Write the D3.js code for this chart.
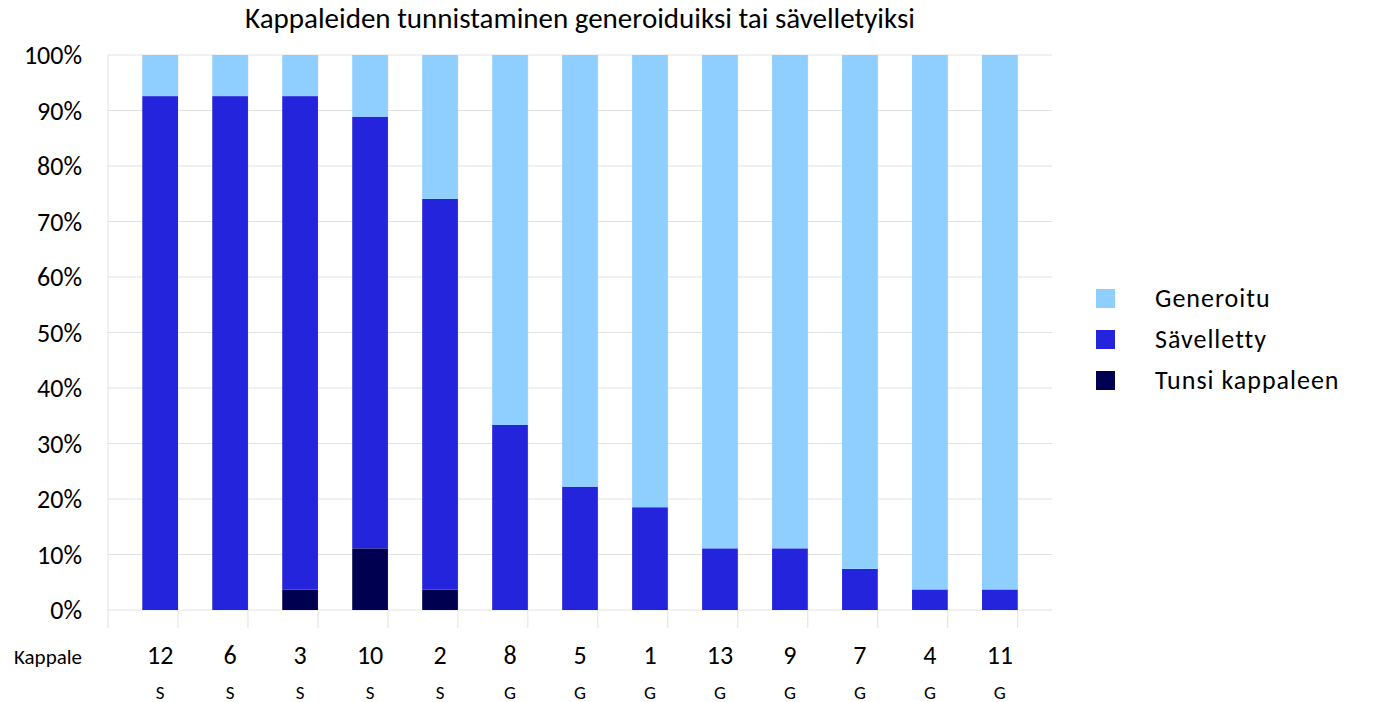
<!DOCTYPE html>
<html><head><meta charset="utf-8">
<script src="https://cdn.jsdelivr.net/npm/d3@7"></script>
<style>body{margin:0;background:#fff}svg{font-family:Carlito,"Liberation Sans",Arial,sans-serif}</style>
</head><body><svg id="c" width="1385" height="702"></svg>
<script>
const songs = ["12","6","3","10","2","8","5","1","13","9","7","4","11"];
const kinds = ["S","S","S","S","S","G","G","G","G","G","G","G","G"];
const tunsi = [0,0,1,3,1,0,0,0,0,0,0,0,0];
const savelletty = [25,25,24,21,19,9,6,5,3,3,2,1,1];
const generoitu = [2,2,2,3,7,18,21,22,24,24,25,26,26];
const seriesNames = ["Tunsi kappaleen","Sävelletty","Generoitu"];
const colors = ["#000050","#2424dd","#8fcfff"];
const yTicks = [0,10,20,30,40,50,60,70,80,90,100];

const svg = d3.select("#c");
const plotLeft = 108, plotRight = 1052, plotTop = 55, plotBottom = 610;
const x = d3.scaleBand().domain(songs).range([plotLeft, plotRight]).padding(0.49);
const y = d3.scaleLinear().domain([0, 100]).range([plotBottom, plotTop]);
const step = x.step();

svg.append("text").attr("x", 580).attr("y", 28).attr("text-anchor", "middle")
  .attr("font-size", 29).text("Kappaleiden tunnistaminen generoiduiksi tai sävelletyiksi");

// grid
svg.append("g").selectAll("line").data(yTicks).join("line")
  .attr("x1", plotLeft).attr("x2", plotRight).attr("y1", d => y(d)).attr("y2", d => y(d))
  .attr("stroke", "#e2e2e2");
svg.append("g").selectAll("line").data(d3.range(songs.length + 1)).join("line")
  .attr("x1", i => plotLeft + i * step).attr("x2", i => plotLeft + i * step)
  .attr("y1", plotTop).attr("y2", plotBottom + 18).attr("stroke", "#e2e2e2");

svg.append("g").selectAll("text").data(yTicks).join("text")
  .attr("x", 82).attr("y", d => y(d) + 9).attr("text-anchor", "end")
  .attr("font-size", 26).text(d => d + "%");

const rows = songs.map((s, i) => {
  const tot = tunsi[i] + savelletty[i] + generoitu[i];
  return { song: s, t: tunsi[i] / tot * 100, s: savelletty[i] / tot * 100, g: generoitu[i] / tot * 100 };
});
const stack = d3.stack().keys(["t", "s", "g"])(rows);
svg.append("g").selectAll("g").data(stack).join("g")
  .attr("fill", (d, i) => colors[i])
  .selectAll("rect").data(d => d).join("rect")
  .attr("x", d => x(d.data.song)).attr("width", x.bandwidth())
  .attr("y", d => y(d[1])).attr("height", d => y(d[0]) - y(d[1]));

svg.append("text").attr("x", 48).attr("y", 664).attr("text-anchor", "middle")
  .attr("font-size", 21).text("Kappale");
svg.append("g").selectAll("text").data(songs).join("text")
  .attr("x", d => x(d) + x.bandwidth() / 2).attr("y", 664).attr("text-anchor", "middle")
  .attr("font-size", 26).text(d => d);
svg.append("g").selectAll("text").data(kinds).join("text")
  .attr("x", (d, i) => x(songs[i]) + x.bandwidth() / 2).attr("y", 699).attr("text-anchor", "middle")
  .attr("font-size", 19).text(d => d);

const legend = [2, 1, 0];
const lg = svg.append("g").selectAll("g").data(legend).join("g")
  .attr("transform", (d, i) => `translate(1096,${289 + i * 41})`);
lg.append("rect").attr("width", 19).attr("height", 19).attr("fill", d => colors[d]);
lg.append("text").attr("x", 59).attr("y", 18).attr("font-size", 26)
  .attr("letter-spacing", 1).text(d => seriesNames[d]);
</script></body></html>
